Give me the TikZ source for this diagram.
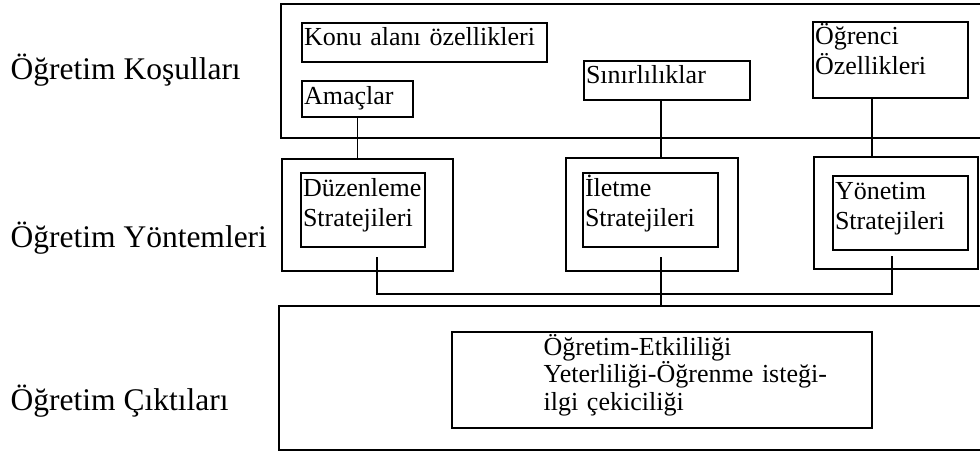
\documentclass[tikz,border=0pt]{standalone}
\usepackage{fontspec}
\setmainfont{Liberation Serif}
\usetikzlibrary{positioning}

\begin{document}
\begin{tikzpicture}[x=1pt, y=-1pt, line width=1.3pt,
  cerceve/.style={draw, shape=rectangle, anchor=north west, inner sep=0pt, outer sep=0pt},
  kutu/.style={draw, shape=rectangle, anchor=north west, inner sep=2pt, outer sep=0pt, align=left, text height=21pt, font=\fontsize{26}{30}\selectfont},
  metin/.style={inner sep=0pt, align=left, font=\fontsize{26}{27.5}\selectfont},
  baslik/.style={anchor=base west, inner sep=0pt, font=\fontsize{31.5}{36}\selectfont}]
\useasboundingbox (0,0) rectangle (980,452);
\clip (0,0) rectangle (980,452);

\node[baslik] (kosullar) at (10,80) {Öğretim Koşulları};
\node[baslik] (yontemler) at (10,247) {Öğretim Yöntemleri};
\node[baslik] (ciktilar) at (10,410) {Öğretim Çıktıları};

\node[cerceve, minimum width=704pt, minimum height=134pt] (kosul) at (281,4) {};
\node[kutu, text width=241pt, text depth=14pt] (konu) at (302,23) {Konu alanı özellikleri};
\node[kutu, text width=107pt, text depth=11pt] (amac) at (302,81) {Amaçlar};
\node[kutu, text width=162pt, text depth=14pt] (sinir) at (584,61) {Sınırlılıklar};
\node[kutu, text width=151pt, text depth=51pt] (ogrenci) at (813,22) {Öğrenci\\Özellikleri};

\node[cerceve, minimum width=171pt, minimum height=112pt] (duzdis) at (282,159) {};
\node[kutu, text width=120pt, text depth=49pt] (duz) at (301,173) {Düzenleme\\Stratejileri};
\node[cerceve, minimum width=172pt, minimum height=113pt] (iletdis) at (566,158) {};
\node[kutu, text width=131pt, text depth=49pt] (ilet) at (583,173) {İletme\\Stratejileri};
\node[cerceve, minimum width=164pt, minimum height=112pt] (yondis) at (814,157) {};
\node[kutu, text width=131pt, text depth=49pt] (yon) at (833,176) {Yönetim\\Stratejileri};

\node[cerceve, minimum width=706pt, minimum height=144pt] (cikti) at (279,306) {};
\node[cerceve, minimum width=420pt, minimum height=96pt] (etkililik) at (452,332) {};
\node[metin, text width=310pt, anchor=base west] (etkimetin) at (543,355) {Öğretim-Etkililiği\\Yeterliliği-Öğrenme isteği-\\ilgi çekiciliği};

\coordinate (d2) at (377,257);
\coordinate (i2) at (661,257);
\coordinate (y2) at (892,256);
\coordinate (bag) at (661,294);

\draw (amac.south) -- (amac.south |- duzdis.north);
\draw ([xshift=-6pt]sinir.south) -- ([xshift=-6pt]sinir.south |- iletdis.north);
\draw ([xshift=-18.5pt]ogrenci.south) -- ([xshift=-18.5pt]ogrenci.south |- yondis.north);
\draw (d2) |- (bag) -| (y2);
\draw (i2) -- (i2 |- cikti.north);
\end{tikzpicture}
\end{document}
